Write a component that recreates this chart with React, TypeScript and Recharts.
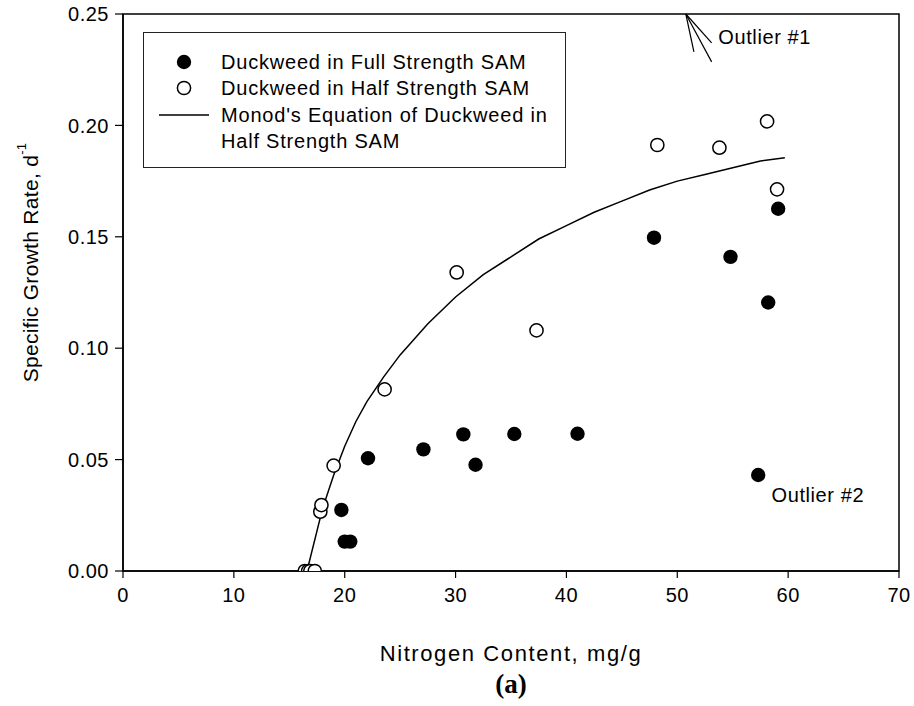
import React from 'react';
import {
  ScatterChart,
  Scatter,
  XAxis,
  YAxis,
  ReferenceArea,
  ReferenceLine,
  ReferenceDot,
  Legend,
} from 'recharts';

// full strength SAM (filled markers)
const fullStrength = [
  { x: 19.7, y: 0.0274 },
  { x: 20.0, y: 0.0132 },
  { x: 20.5, y: 0.0132 },
  { x: 22.1, y: 0.0506 },
  { x: 27.1, y: 0.0546 },
  { x: 30.7, y: 0.0613 },
  { x: 31.8, y: 0.0477 },
  { x: 35.3, y: 0.0615 },
  { x: 41.0, y: 0.0616 },
  { x: 47.9, y: 0.1496 },
  { x: 54.8, y: 0.141 },
  { x: 58.2, y: 0.1205 },
  { x: 59.1, y: 0.1626 },
  { x: 57.3, y: 0.0431 },
];

// half strength SAM (open markers)
const halfStrength = [
  { x: 16.4, y: 0 },
  { x: 16.7, y: 0 },
  { x: 16.9, y: 0 },
  { x: 17.3, y: 0 },
  { x: 17.8, y: 0.0266 },
  { x: 17.9, y: 0.0296 },
  { x: 19.0, y: 0.0473 },
  { x: 23.6, y: 0.0815 },
  { x: 30.1, y: 0.134 },
  { x: 37.3, y: 0.108 },
  { x: 48.2, y: 0.1912 },
  { x: 53.8, y: 0.19 },
  { x: 58.1, y: 0.2018 },
  { x: 59.0, y: 0.1713 },
];

// fitted Monod curve for half strength SAM
const monodCurve = [
  { x: 16.6, y: 0 },
  { x: 17.0, y: 0.008 },
  { x: 17.5, y: 0.018 },
  { x: 18.0, y: 0.028 },
  { x: 19.0, y: 0.043 },
  { x: 20.0, y: 0.056 },
  { x: 21.0, y: 0.067 },
  { x: 22.0, y: 0.076 },
  { x: 23.5, y: 0.087 },
  { x: 25.0, y: 0.097 },
  { x: 27.5, y: 0.111 },
  { x: 30.0, y: 0.123 },
  { x: 32.5, y: 0.133 },
  { x: 35.0, y: 0.141 },
  { x: 37.5, y: 0.149 },
  { x: 40.0, y: 0.155 },
  { x: 42.5, y: 0.161 },
  { x: 45.0, y: 0.166 },
  { x: 47.5, y: 0.171 },
  { x: 50.0, y: 0.175 },
  { x: 52.5, y: 0.178 },
  { x: 55.0, y: 0.181 },
  { x: 57.5, y: 0.184 },
  { x: 59.7, y: 0.1855 },
];

const xTicks = [0, 10, 20, 30, 40, 50, 60, 70];
const yTicks = [0, 0.05, 0.1, 0.15, 0.2, 0.25];

const legendLabels = [
  'Duckweed in Full Strength SAM',
  'Duckweed in Half Strength SAM',
  "Monod's Equation of Duckweed in",
  'Half Strength SAM',
];

// arrow pointing at outlier #1 above the top of the plot
const outlierArrow = [
  [{ x: 50.77, y: 0.25 }, { x: 51.5, y: 0.233 }],
  [{ x: 50.77, y: 0.25 }, { x: 53.1, y: 0.237 }],
  [{ x: 50.77, y: 0.25 }, { x: 53.1, y: 0.2285 }],
];

const FONT = '"Liberation Sans", Arial, sans-serif';

const FilledDot = (props: any) => (
  <circle cx={props.cx} cy={props.cy} r={7.2} fill="#000" />
);

const OpenDot = (props: any) => (
  <circle cx={props.cx} cy={props.cy} r={6.6} fill="#fff" stroke="#000" strokeWidth={1.5} />
);

const NoDot = () => <g />;

function LegendBox() {
  const rowY = [29, 55, 82, 108];
  return (
    <div
      style={{
        position: 'relative',
        width: 421,
        height: 134,
        border: '1.3px solid #222',
        background: '#fff',
        fontFamily: FONT,
        fontSize: 20,
        letterSpacing: 0.8,
        color: '#000',
      }}
    >
      <svg width={80} height={134} style={{ position: 'absolute', left: 0, top: 0 }}>
        <circle cx={40} cy={rowY[0]} r={7.2} fill="#000" />
        <circle cx={40} cy={rowY[1]} r={6.6} fill="#fff" stroke="#000" strokeWidth={1.5} />
        <line x1={15} x2={65} y1={rowY[2]} y2={rowY[2]} stroke="#000" strokeWidth={1.5} />
      </svg>
      {legendLabels.map((t, i) => (
        <div
          key={t}
          style={{
            position: 'absolute',
            left: 77,
            top: rowY[i] - 12,
            lineHeight: '24px',
            whiteSpace: 'nowrap',
          }}
        >
          {t}
        </div>
      ))}
    </div>
  );
}

const YTitle = (props: any) => {
  const { viewBox } = props;
  const cx = viewBox.x + 30;
  const cy = viewBox.y + viewBox.height / 2 - 30;
  return (
    <text
      x={cx}
      y={cy}
      transform={`rotate(-90 ${cx} ${cy})`}
      textAnchor="middle"
      dominantBaseline="central"
      fontFamily={FONT}
      fontSize={21}
      letterSpacing={0.3}
      fill="#000"
    >
      Specific Growth Rate, d
      <tspan dy={-9} fontSize={13}>
        -1
      </tspan>
    </text>
  );
};

const XTitle = (props: any) => {
  const { viewBox } = props;
  const cx = viewBox.x + viewBox.width / 2;
  return (
    <g>
      <text
        x={cx}
        y={viewBox.y + 82}
        textAnchor="middle"
        dominantBaseline="central"
        fontFamily={FONT}
        fontSize={22}
        letterSpacing={1.6}
        fill="#000"
      >
        Nitrogen Content, mg/g
      </text>
      <text
        x={cx}
        y={viewBox.y + 113}
        textAnchor="middle"
        dominantBaseline="central"
        fontFamily='"Liberation Serif", "Times New Roman", serif'
        fontWeight="bold"
        fontSize={27}
        fill="#000"
      >
        (a)
      </text>
    </g>
  );
};

const tickStyle = { fill: '#000', fontSize: 20, fontFamily: FONT, letterSpacing: 0.5 };

export default function App() {
  return (
    <div style={{ position: 'absolute', left: 0, top: 0, background: '#fff' }}>
      <ScatterChart
        width={914}
        height={706}
        margin={{ top: 14, right: 15, left: 0, bottom: 0 }}
      >
        <XAxis
          type="number"
          dataKey="x"
          domain={[0, 70]}
          ticks={xTicks}
          height={135}
          tickSize={7}
          tickMargin={10}
          tick={tickStyle}
          axisLine={{ stroke: '#000', strokeWidth: 1.5 }}
          tickLine={{ stroke: '#000', strokeWidth: 1.2 }}
          allowDataOverflow
          label={<XTitle />}
        />
        <YAxis
          type="number"
          dataKey="y"
          domain={[0, 0.25]}
          ticks={yTicks}
          width={123}
          tickSize={8}
          tickMargin={6}
          tick={tickStyle}
          tickFormatter={(v: number) => v.toFixed(2)}
          axisLine={{ stroke: '#000', strokeWidth: 1.5 }}
          tickLine={{ stroke: '#000', strokeWidth: 1.2 }}
          allowDataOverflow
          label={<YTitle />}
        />
        <ReferenceArea
          x1={0}
          x2={70}
          y1={0}
          y2={0.25}
          fill="none"
          stroke="#000"
          strokeWidth={1.5}
          ifOverflow="visible"
        />
        {outlierArrow.map((seg, i) => (
          <ReferenceLine
            key={i}
            segment={seg}
            stroke="#000"
            strokeWidth={1.2}
            ifOverflow="visible"
          />
        ))}
        <ReferenceDot
          x={53.7}
          y={0.2397}
          r={0}
          fill="none"
          stroke="none"
          ifOverflow="visible"
          label={{
            value: 'Outlier #1',
            position: 'right',
            offset: 0,
            fill: '#000',
            fontSize: 20,
            fontFamily: FONT,
            letterSpacing: 0.6,
          }}
        />
        <ReferenceDot
          x={58.5}
          y={0.0341}
          r={0}
          fill="none"
          stroke="none"
          ifOverflow="visible"
          label={{
            value: 'Outlier #2',
            position: 'right',
            offset: 0,
            fill: '#000',
            fontSize: 20,
            fontFamily: FONT,
            letterSpacing: 0.6,
          }}
        />
        <Legend
          layout="vertical"
          align="center"
          verticalAlign="middle"
          wrapperStyle={{ left: 143, top: 32, width: 423, height: 136 }}
          content={() => <LegendBox />}
        />
        <Scatter
          name="Monod's Equation of Duckweed in Half Strength SAM"
          data={monodCurve}
          line={{ stroke: '#000', strokeWidth: 1.5 }}
          shape={NoDot}
          isAnimationActive={false}
        />
        <Scatter
          name="Duckweed in Full Strength SAM"
          data={fullStrength}
          shape={FilledDot}
          isAnimationActive={false}
        />
        <Scatter
          name="Duckweed in Half Strength SAM"
          data={halfStrength}
          shape={OpenDot}
          isAnimationActive={false}
        />
      </ScatterChart>
    </div>
  );
}
